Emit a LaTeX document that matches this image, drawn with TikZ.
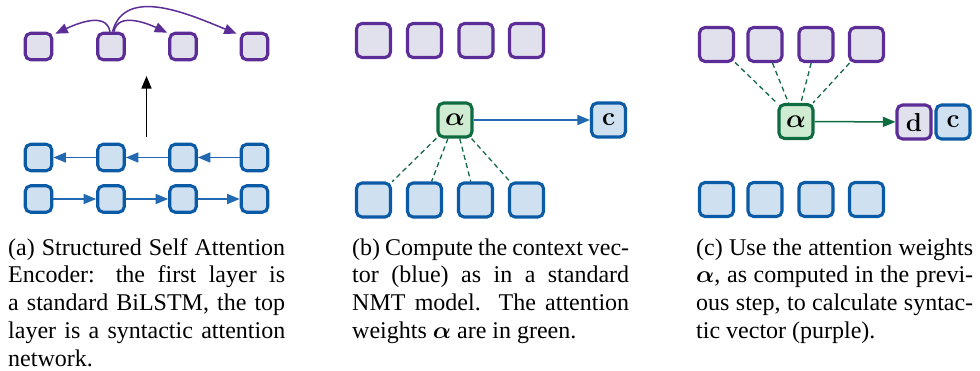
\RequirePackage{fix-cm}
\documentclass[tikz,border=0pt]{standalone}
\usepackage[no-math]{fontspec}
\setmainfont{Liberation Serif}
\usepackage{bm}
\usetikzlibrary{arrows.meta}
\definecolor{purpline}{RGB}{92,45,150}
\definecolor{purpfill}{RGB}{225,225,238}
\definecolor{blueline}{RGB}{10,90,166}
\definecolor{bluefill}{RGB}{207,224,241}
\definecolor{bluearrow}{RGB}{35,105,178}
\definecolor{greenline}{RGB}{14,108,64}
\definecolor{greenfill}{RGB}{207,235,209}
\definecolor{greendash}{RGB}{22,105,70}
\newcommand\capln[1]{\hbox to 277pt{#1}}
\begin{document}
\begin{tikzpicture}[x=1pt,y=1pt,
  box/.style={rectangle, rounded corners=5.5pt, inner sep=0pt, line width=3.1pt,
    font=\fontsize{26}{30}\selectfont},
  pbox/.style={box, draw=purpline, fill=purpfill},
  bbox/.style={box, draw=blueline, fill=bluefill},
  gbox/.style={box, draw=greenline, fill=greenfill},
  sbox/.style={minimum size=26.5pt},
  lbox/.style={minimum size=34pt},
  tip/.style={-{Triangle[length=12.5pt,width=10pt]}},
  parrow/.style={tip, draw=purpline, line width=1.5pt},
  barrow/.style={tip, draw=bluearrow, line width=1.5pt},
  karrow/.style={tip, draw=black, line width=1.5pt},
  garrow/.style={tip, draw=greenline, line width=1.5pt},
  gdash/.style={draw=greendash, line width=1.3pt, dash pattern=on 5pt off 3.5pt},
  captext/.style={inner sep=0pt, anchor=base west, font=\fontsize{24}{28}\selectfont}
]
\useasboundingbox (0,0) rectangle (980,-370);

% ---------- panel (a)
\node[pbox,sbox] (at1) at (38.5,-46.5) {};
\node[pbox,sbox] (at2) at (111,-46.5) {};
\node[pbox,sbox] (at3) at (183,-46.5) {};
\node[pbox,sbox] (at4) at (254.5,-46.5) {};
\node[bbox,sbox] (ar1) at (38.5,-157.5) {};
\node[bbox,sbox] (ar2) at (111,-157.5) {};
\node[bbox,sbox] (ar3) at (183,-157.5) {};
\node[bbox,sbox] (ar4) at (254.5,-157.5) {};
\node[bbox,sbox] (af1) at (38.5,-199) {};
\node[bbox,sbox] (af2) at (111,-199) {};
\node[bbox,sbox] (af3) at (183,-199) {};
\node[bbox,sbox] (af4) at (254.5,-199) {};
\draw[barrow] (ar2) -- (ar1);
\draw[barrow] (ar3) -- (ar2);
\draw[barrow] (ar4) -- (ar3);
\draw[barrow] (af1) -- (af2);
\draw[barrow] (af2) -- (af3);
\draw[barrow] (af3) -- (af4);
\coordinate (kstart) at (146.5,-137);
\coordinate (kend) at (146.5,-76);
\draw[karrow] (kstart) -- (kend);
\draw[parrow] ([xshift=-1pt]at2.north) to[out=100,in=25] ([xshift=2pt,yshift=-2pt]at1.north east);
\draw[parrow] ([xshift=3pt]at2.north) to[out=80,in=155] ([xshift=-1pt,yshift=-1pt]at3.north west);
\draw[parrow] ([xshift=1.5pt]at2.north) to[out=75,in=158] ([xshift=-3pt,yshift=-2pt]at4.north west);

% ---------- panel (b)
\node[pbox,lbox] (bt1) at (373.5,-40.5) {};
\node[pbox,lbox] (bt2) at (424.5,-40.5) {};
\node[pbox,lbox] (bt3) at (476,-40.5) {};
\node[pbox,lbox] (bt4) at (526.5,-40.5) {};
\node[gbox,lbox] (balpha) at (455,-120) {$\bm{\alpha}$};
\node[bbox,lbox] (bc) at (608.5,-120) {$\mathbf{c}$};
\node[bbox,lbox] (bb1) at (373.5,-200) {};
\node[bbox,lbox] (bb2) at (424.5,-200) {};
\node[bbox,lbox] (bb3) at (475.5,-200) {};
\node[bbox,lbox] (bb4) at (526.5,-200) {};
\draw[gdash] (balpha) -- (bb1);
\draw[gdash] (balpha) -- (bb2);
\draw[gdash] (balpha) -- (bb3);
\draw[gdash] (balpha) -- (bb4);
\draw[barrow] (balpha) -- (bc);

% ---------- panel (c)
\node[pbox,lbox] (ct1) at (716.5,-44.5) {};
\node[pbox,lbox] (ct2) at (765,-44.5) {};
\node[pbox,lbox] (ct3) at (816,-44.5) {};
\node[pbox,lbox] (ct4) at (866.5,-44.5) {};
\node[gbox,lbox] (calpha) at (796,-121.5) {$\bm{\alpha}$};
\node[pbox,lbox] (cd) at (914,-122) {$\mathbf{d}$};
\node[bbox,lbox] (cc) at (953,-122) {$\mathbf{c}$};
\node[bbox,lbox] (cb1) at (716.5,-199.5) {};
\node[bbox,lbox] (cb2) at (765,-199.5) {};
\node[bbox,lbox] (cb3) at (816,-199.5) {};
\node[bbox,lbox] (cb4) at (866.5,-199.5) {};
\draw[gdash] (ct1) -- (calpha);
\draw[gdash] (ct2) -- (calpha);
\draw[gdash] (ct3) -- (calpha);
\draw[gdash] (ct4) -- (calpha);
\draw[garrow] (calpha) -- (cd);

% ---------- captions
\node[captext] (capa) at (8,-255) {\vtop{\baselineskip=27.8pt
  \capln{(a) Structured Self Attention}
  \capln{Encoder: the first layer is}
  \capln{a standard BiLSTM, the top}
  \capln{layer is a syntactic attention}
  \hbox{network.}}};
\node[captext] (capb) at (352,-255) {\vtop{\baselineskip=27.8pt
  \capln{(b) Compute the context vec-}
  \capln{tor (blue) as in a standard}
  \capln{NMT model. The attention}
  \hbox{weights $\bm{\alpha}$ are in green.}}};
\node[captext] (capc) at (696,-255) {\vtop{\baselineskip=27.8pt
  \capln{(c) Use the attention weights}
  \capln{$\bm{\alpha}$, as computed in the previ-}
  \capln{ous step, to calculate syntac-}
  \hbox{tic vector (purple).}}};
\end{tikzpicture}
\end{document}
